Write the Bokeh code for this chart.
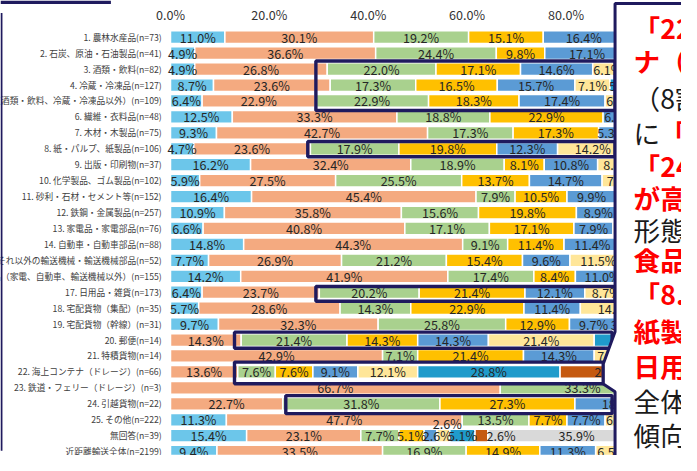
from bokeh.plotting import figure
from bokeh.models import ColumnDataSource, Range1d
from bokeh.core.properties import value
from bokeh.embed import file_html
from bokeh.resources import INLINE
import numpy as np

# ---------------- data ----------------
categories = [
    "1. 農林水産品(n=73)",
    "2. 石炭、原油・石油製品(n=41)",
    "3. 酒類・飲料(n=82)",
    "4. 冷蔵・冷凍品(n=127)",
    "5. 食料品（酒類・飲料、冷蔵・冷凍品以外）(n=109)",
    "6. 繊維・衣料品(n=48)",
    "7. 木材・木製品(n=75)",
    "8. 紙・パルプ、紙製品(n=106)",
    "9. 出版・印刷物(n=37)",
    "10. 化学製品、ゴム製品(n=102)",
    "11. 砂利・石材・セメント等(n=152)",
    "12. 鉄鋼・金属製品(n=257)",
    "13. 家電品・家電部品(n=76)",
    "14. 自動車・自動車部品(n=88)",
    "15. それ以外の輸送機械・輸送機械部品(n=52)",
    "16. 機械・機械部品（家電、自動車、輸送機械以外）(n=155)",
    "17. 日用品・雑貨(n=173)",
    "18. 宅配貨物（集配）(n=35)",
    "19. 宅配貨物（幹線）(n=31)",
    "20. 郵便(n=14)",
    "21. 特積貨物(n=14)",
    "22. 海上コンテナ（ドレージ）(n=66)",
    "23. 鉄道・フェリー（ドレージ）(n=3)",
    "24. 引越貨物(n=22)",
    "25. その他(n=222)",
    "無回答(n=39)",
    "近距離輸送全体(n=2199)",
]

s1 = [11.0, 4.9, 4.9, 8.7, 6.4, 12.5, 9.3, 4.7, 16.2, 5.9, 16.4, 10.9, 6.6, 14.8, 7.7, 14.2, 6.4, 5.7, 9.7, 0, 0, 0, 0, 0, 11.3, 15.4, 9.4]
s2 = [30.1, 36.6, 26.8, 23.6, 22.9, 33.3, 42.7, 23.6, 32.4, 27.5, 45.4, 35.8, 40.8, 44.3, 26.9, 41.9, 23.7, 28.6, 32.3, 14.3, 42.9, 13.6, 66.7, 22.7, 47.7, 23.1, 33.5]
s3 = [19.2, 24.4, 22.0, 17.3, 22.9, 18.8, 17.3, 17.9, 18.9, 25.5, 7.9, 15.6, 17.1, 9.1, 21.2, 17.4, 20.2, 14.3, 25.8, 21.4, 7.1, 7.6, 33.3, 31.8, 13.5, 7.7, 16.9]
s4 = [15.1, 9.8, 17.1, 16.5, 18.3, 22.9, 17.3, 19.8, 8.1, 13.7, 10.5, 19.8, 17.1, 11.4, 15.4, 8.4, 21.4, 22.9, 12.9, 14.3, 21.4, 7.6, 0, 27.3, 7.7, 5.1, 14.9]
s5 = [16.4, 17.1, 14.6, 15.7, 17.4, 6.3, 5.3, 12.3, 10.8, 14.7, 9.9, 8.9, 7.9, 11.4, 9.6, 11.0, 12.1, 11.4, 9.7, 14.3, 14.3, 9.1, 0, 18.2, 7.7, 2.6, 11.3]
s6 = [5.5, 2.4, 6.1, 7.1, 6.4, 4.2, 5.3, 14.2, 8.1, 7.8, 5.3, 5.4, 6.6, 5.7, 11.5, 4.5, 8.7, 14.3, 3.2, 21.4, 7.1, 12.1, 0, 0, 6.3, 2.6, 6.5]
s7 = [1.4, 2.4, 3.7, 5.5, 2.8, 0, 1.3, 3.8, 2.7, 2.9, 2.0, 1.6, 1.3, 1.1, 3.8, 1.3, 3.5, 0, 3.2, 14.3, 7.2, 28.8, 0, 0, 2.7, 5.1, 3.0]
s8 = [0, 0, 1.2, 0.8, 0.9, 0, 0, 0.9, 0, 1.0, 1.3, 0.8, 0, 1.1, 0, 0.6, 1.2, 0, 0, 0, 0, 21.2, 0, 0, 0.9, 2.6, 1.0]
s9 = [1.3, 2.4, 3.6, 4.8, 2.0, 2.0, 1.5, 2.8, 2.7, 1.0, 1.3, 1.2, 2.6, 1.1, 3.9, 0.7, 2.8, 2.8, 3.2, 0, 0, 0, 0, 0, 2.2, 35.9, 3.5]

tick_values = [0, 20, 40, 60, 80]
tick_labels = ["0.0%", "20.0%", "40.0%", "60.0%", "80.0%"]

# ---------------- layout helpers (reference-pixel geometry) ----------------
W, H = 681, 455
RW, RH = 697, 471
SY = H / RH
X0, PX = 174.0, 5.06     # screen x of 0 %, px per 1 %
Y0, PY = 38.0, 16.5      # screen y of first row, px per row


def xp(px):
    return (px - X0) / PX


def yr(py):
    return (py - Y0) / PY


def fpx(s):
    return f"{s * SY:.1f}px"


FONT = value("Noto Sans CJK JP")
NAVY = "#1f1a5e"
colors = ["#6cc6ea", "#f4aa80", "#a9d18e", "#ffc000", "#5b9bd5",
          "#ffe699", "#1f9bcb", "#c55a11", "#d9d9d9"]

p = figure(width=W, height=H, output_backend="svg", toolbar_location=None,
           x_range=Range1d(xp(0), xp(RW)), y_range=Range1d(yr(RH), yr(0)),
           x_axis_location=None, y_axis_location=None, min_border=0,
           outline_line_color=None, background_fill_color="white",
           border_fill_color="white")
p.grid.visible = False

n = len(categories)
keys = ["s1", "s2", "s3", "s4", "s5", "s6", "s7", "s8", "s9"]
series = [s1, s2, s3, s4, s5, s6, s7, s8, s9]
src = ColumnDataSource(dict(y=list(range(n)), **{k: v for k, v in zip(keys, series)}))
p.hbar_stack(keys, y="y", height=0.8, color=colors, line_color="white",
             line_width=1.5, source=src)

# segment labels
arr = np.array(series, dtype=float)
cum = np.cumsum(arr, axis=0)
start = cum - arr
nudge = {(25, 4): (7, 0), (25, 5): (4, -13), (25, 7): (20, 0)}   # pixel nudges
lx, lyv, lt = [], [], []
for s in range(arr.shape[0]):
    for i in range(n):
        v = arr[s, i]
        if v <= 0:
            continue
        dx, dy = nudge.get((i, s), (0, 0))
        lx.append(start[s, i] + v / 2 + dx / PX)
        lyv.append(i + dy / PY)
        lt.append(f"{v:.1f}%")
p.text(x=lx, y=lyv, text=lt, text_align="center", text_baseline="middle",
       text_font=FONT, text_font_size=fpx(13), text_color="#262626")

# category labels
p.text(x=[xp(165)] * n, y=list(range(n)), text=categories, text_align="right",
       text_baseline="middle", text_font=FONT, text_font_size=fpx(9.0),
       text_color="#404040")

# tick labels
p.text(x=tick_values, y=[yr(15)] * len(tick_values), text=tick_labels,
       text_align="center", text_baseline="middle", text_font=FONT,
       text_font_size=fpx(13), text_color="#333333")

# slide decoration (left frame line and top bar)
p.quad(left=[xp(0), xp(0)], right=[xp(113), xp(2)], top=[yr(0), yr(13)],
       bottom=[yr(3.5), yr(466)], color=NAVY, line_color=None)

# highlight frames  (left, top, bottom, right) in reference pixels
frames = [(322.8, 62.7, 113.8, 629), (314.5, 146, 161.7, 629),
          (322.8, 296, 311.3, 629), (239.5, 343.3, 360, 626),
          (239.5, 374.3, 396.7, 617), (292, 409, 427.7, 626)]
p.quad(left=[xp(f[0]) for f in frames], right=[xp(f[3]) for f in frames],
       top=[yr(f[1]) for f in frames], bottom=[yr(f[2]) for f in frames],
       fill_color=None, line_color=NAVY, line_width=3.4)

# callout box
box = [(629, 3), (760, 3), (760, 520), (629, 520), (629, 405), (617, 397),
       (617, 376), (629, 343)]
p.patch([xp(a) for a, b in box], [yr(b) for a, b in box], fill_color="white",
        line_color=NAVY, line_width=3)

note = [
    ("「22. 海上コンテ", 648, 28, "#ff0000", "bold"),
    ("ナ（ドレージ）」", 648, 62, "#ff0000", "bold"),
    ("（8割）", 648, 100, "#1a1a1a", "normal"),
    ("に", 648, 137, "#1a1a1a", "normal"),
    ("「20. 郵便」", 675, 137, "#ff0000", "bold"),
    ("「24. 引越貨物」", 648, 171, "#ff0000", "bold"),
    ("が高い", 648, 204, "#ff0000", "bold"),
    ("形態別", 648, 237, "#1a1a1a", "normal"),
    ("食品関係", 648, 268, "#ff0000", "bold"),
    ("「8. 紙・パルプ、", 648, 303, "#ff0000", "bold"),
    ("紙製品」", 648, 342, "#ff0000", "bold"),
    ("日用品・雑貨", 648, 378, "#ff0000", "bold"),
    ("全体の", 648, 414, "#1a1a1a", "normal"),
    ("傾向", 648, 449, "#1a1a1a", "normal"),
]
for t, x, y, c, wgt in note:
    p.text(x=[xp(x)], y=[yr(y)], text=[t], text_align="left",
           text_baseline="middle", text_font=FONT, text_font_size=fpx(27.5),
           text_color=c, text_font_style=wgt)

open("out.html", "w").write(file_html(p, INLINE))
